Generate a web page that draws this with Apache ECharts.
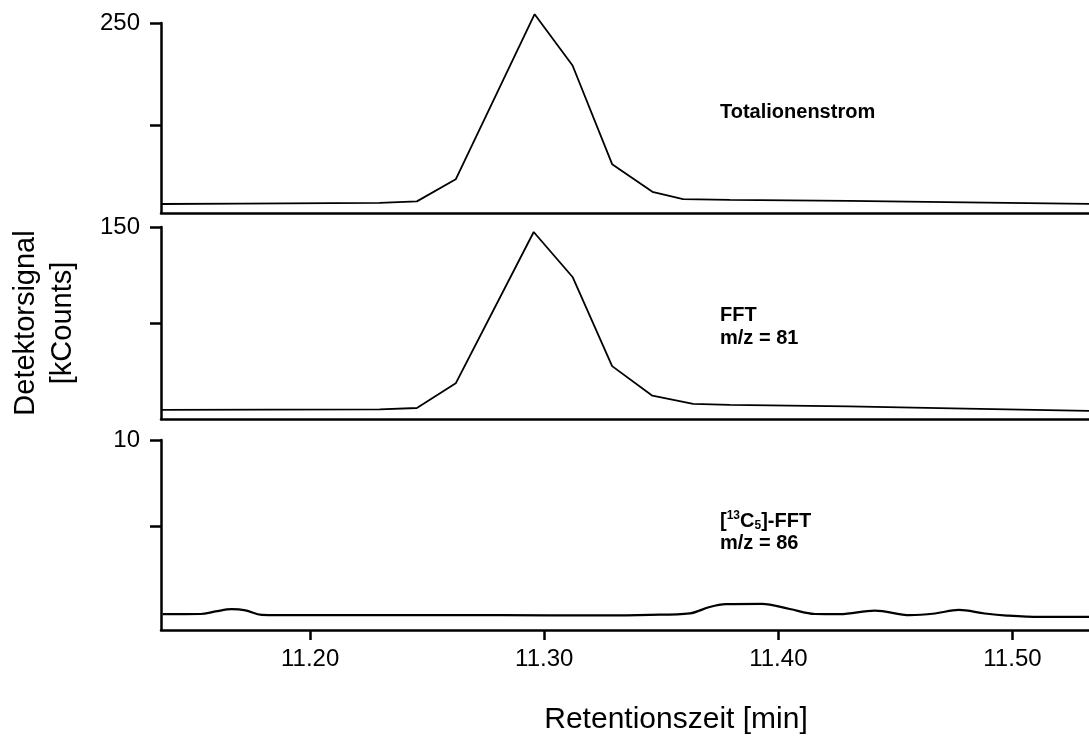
<!DOCTYPE html>
<html>
<head>
<meta charset="utf-8">
<script src="https://cdn.jsdelivr.net/npm/echarts@6/dist/echarts.min.js"></script>
<style>html,body{margin:0;padding:0;background:#fff}#c{width:1089px;height:736px}</style>
</head>
<body>
<div id="c"></div>
<script>
// ---- data (retention time in min, signal in kCounts) ----
const xTicks = [11.20, 11.30, 11.40, 11.50];
const xRange = [11.1363, 11.5327];

const ticTime = [11.1363, 11.1700, 11.2297, 11.2456, 11.2622, 11.2959, 11.3121, 11.3290, 11.3462, 11.3593, 11.3793, 11.4300, 11.4800, 11.5327];
const ticVal  = [161.4, 161.6, 162.0, 162.7, 173.5, 254.3, 229.2, 180.9, 167.4, 163.8, 163.4, 162.9, 162.2, 161.5];

const fft81Time = [11.1363, 11.2297, 11.2456, 11.2622, 11.2955, 11.3121, 11.3290, 11.3462, 11.3636, 11.3793, 11.4300, 11.4800, 11.5327];
const fft81Val  = [55.2, 55.5, 56.2, 69.0, 147.4, 124.1, 77.9, 62.6, 58.3, 57.8, 57.0, 55.9, 54.7];

const fft86Time = [11.1370, 11.1532, 11.1596, 11.1665, 11.1724, 11.1793, 11.1955, 11.2382, 11.2810, 11.3237, 11.3451, 11.3622, 11.3707, 11.3776, 11.3929, 11.4049, 11.4156, 11.4263, 11.4412, 11.4562, 11.4669, 11.4771, 11.4882, 11.4976, 11.5117, 11.5327];
const fft86Val  = [-0.13, -0.12, 0.03, 0.16, 0.09, -0.17, -0.19, -0.19, -0.19, -0.20, -0.17, -0.08, 0.29, 0.45, 0.47, 0.17, -0.12, -0.13, 0.08, -0.19, -0.09, 0.12, -0.09, -0.21, -0.29, -0.29];

const yMax = [250, 150, 10];
const yMin = [157.0, 50.5, -1.05];
const yTickVals = [[200, 250], [100, 150], [5, 10]];
const yLabelVals = [[250], [150], [10]];

const labels = ['Totalionenstrom', 'FFT\nm/z = 81', '{b|[}{sup|13}{b|C}{sub|5}{b|]-FFT}\n{b|m/z = 86}'];

// ---- chart ----
const FONT = '"Liberation Sans", Arial, sans-serif';
const grids = [
  {left: 161, right: 0, top: 23, height: 190},
  {left: 161, right: 0, top: 227, height: 192},
  {left: 161, right: 0, top: 440, height: 190}
];
const axisLineStyle = {color: '#000', width: 2.5};

const xAxes = [0, 1, 2].map(i => ({
  type: 'value', gridIndex: i, min: xRange[0], max: xRange[1],
  axisLine: {show: true, onZero: false, lineStyle: axisLineStyle},
  splitLine: {show: false},
  axisTick: i === 2 ? {show: true, length: 10, lineStyle: axisLineStyle, customValues: xTicks} : {show: false},
  axisLabel: i === 2 ? {show: true, customValues: xTicks, formatter: v => Number(v).toFixed(2), fontSize: 24, color: '#000', fontFamily: FONT, margin: 17} : {show: false}
}));

const yAxes = [0, 1, 2].map(i => ({
  type: 'value', gridIndex: i, min: yMin[i], max: yMax[i],
  axisLine: {show: true, onZero: false, lineStyle: axisLineStyle},
  splitLine: {show: false},
  axisTick: {show: true, length: 11, lineStyle: axisLineStyle, customValues: yTickVals[i]},
  axisLabel: {show: true, customValues: yLabelVals[i], fontSize: 24, color: '#000', fontFamily: FONT, margin: 21}
}));

function zip(t, v) { return t.map((x, k) => [x, v[k]]); }

const series = [
  {type: 'line', xAxisIndex: 0, yAxisIndex: 0, data: zip(ticTime, ticVal), showSymbol: false, clip: false, lineStyle: {color: '#000', width: 1.8}, silent: true},
  {type: 'line', xAxisIndex: 1, yAxisIndex: 1, data: zip(fft81Time, fft81Val), showSymbol: false, clip: false, lineStyle: {color: '#000', width: 1.8}, silent: true},
  {type: 'line', xAxisIndex: 2, yAxisIndex: 2, data: zip(fft86Time, fft86Val), showSymbol: false, clip: false, smooth: 0.35, lineStyle: {color: '#000', width: 2.2}, silent: true}
];

const annStyle = {fill: '#000', fontSize: 20, fontWeight: 'bold', fontFamily: FONT, lineHeight: 23, textVerticalAlign: 'middle'};

const chart = echarts.init(document.getElementById('c'), null, {renderer: 'canvas'});
chart.setOption({
  animation: false,
  backgroundColor: '#fff',
  grid: grids,
  xAxis: xAxes,
  yAxis: yAxes,
  series: series,
  graphic: [
    {type: 'text', x: 720, y: 112, style: Object.assign({text: labels[0]}, annStyle)},
    {type: 'text', x: 720, y: 327, style: Object.assign({text: labels[1]}, annStyle)},
    {type: 'text', x: 720, y: 532, style: {
      text: labels[2], fill: '#000', fontFamily: FONT, textVerticalAlign: 'middle',
      rich: {
        b: {fontSize: 20, fontWeight: 'bold', fontFamily: FONT, lineHeight: 22, fill: '#000'},
        sup: {fontSize: 12, fontWeight: 'bold', fontFamily: FONT, lineHeight: 12, verticalAlign: 'top', fill: '#000'},
        sub: {fontSize: 12, fontWeight: 'bold', fontFamily: FONT, lineHeight: 12, verticalAlign: 'bottom', fill: '#000'}
      }
    }},
    {type: 'text', x: 44, y: 323, rotation: Math.PI / 2, style: {
      text: 'Detektorsignal\n[kCounts]', fill: '#000', fontSize: 29, fontFamily: FONT, lineHeight: 37, align: 'center', verticalAlign: 'middle'
    }},
    {type: 'text', x: 676, y: 720, style: {
      text: 'Retentionszeit [min]', fill: '#000', fontSize: 30, fontFamily: FONT, align: 'center', verticalAlign: 'middle'
    }}
  ]
});
</script>
</body>
</html>
